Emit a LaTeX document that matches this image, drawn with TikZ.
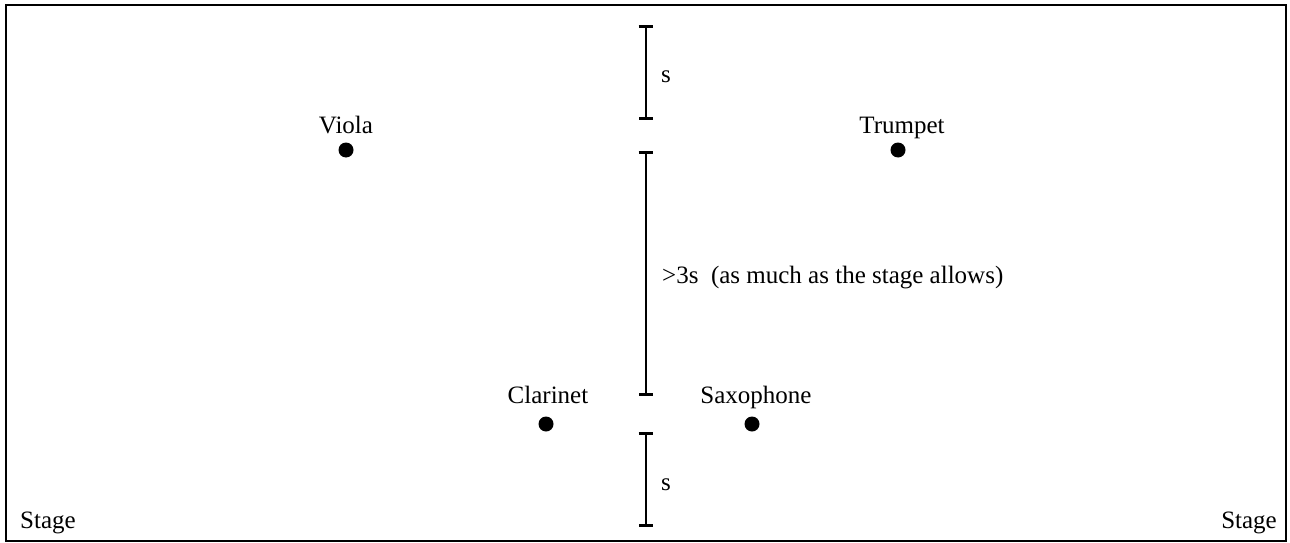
\documentclass[tikz,border=0pt]{standalone}
\usepackage{fontspec}
\setmainfont{Liberation Serif}
\usetikzlibrary{arrows.meta}

\tikzset{
  txt/.style={font=\fontsize{25}{29}\selectfont, inner sep=0pt, anchor=base},
  dot/.style={circle, fill=black, inner sep=0pt, minimum size=15pt},
  dimbar/.style={line width=2pt, {Bar[width=14pt,line width=3pt]}-{Bar[width=14pt,line width=3pt]}}
}

\begin{document}
\begin{tikzpicture}[x=1pt,y=-1pt]
\useasboundingbox (0,0) rectangle (1290,543);
\draw [line width=2pt] (6,5) rectangle (1286,541); %stage frame

%players
\node[dot] (viola) at (346,150) {};
\node[dot] (trumpet) at (898,150) {};
\node[dot] (clarinet) at (546,424) {};
\node[dot] (saxophone) at (752,424) {};
\node[txt] (violatxt) at (346,133) {Viola};
\node[txt] (trumpettxt) at (902,133) {Trumpet};
\node[txt] (clarinettxt) at (548,403) {Clarinet};
\node[txt] (saxophonetxt) at (756,403) {Saxophone};

%distances
\coordinate (topA) at (645.5,25);
\coordinate (topB) at (645.5,120);
\coordinate (midA) at (645.5,151);
\coordinate (midB) at (645.5,396);
\coordinate (botA) at (645.5,432);
\coordinate (botB) at (645.5,527);
\draw [dimbar] (topA) -- (topB);
\draw [dimbar] (midA) -- (midB);
\draw [dimbar] (botA) -- (botB);
\node[txt] (stop) at (666,82) {s};
\node[txt, anchor=base west] (smid) at (662,283) {>3s\ \ (as much as the stage allows)};
\node[txt] (sbot) at (666,490) {s};

\node[txt, anchor=base west] (stageL) at (20,528) {Stage};
\node[txt, anchor=base east] (stageR) at (1277,528) {Stage};
\end{tikzpicture}
\end{document}
